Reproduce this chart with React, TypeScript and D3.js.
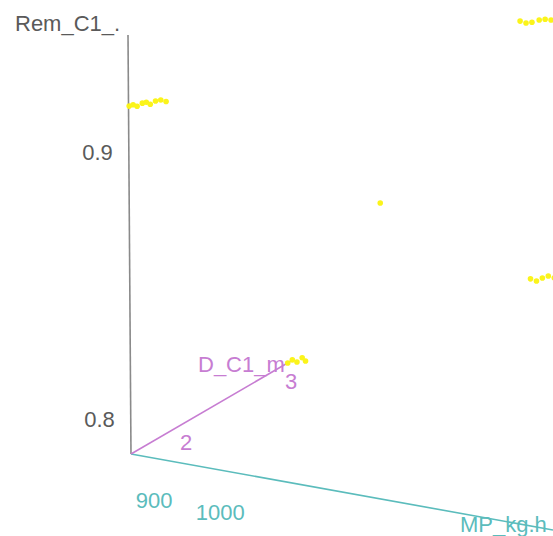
import React from 'react'
import * as d3 from 'd3'

// point data: MP_kg.h, Rem_C1_., D_C1_m
const mpValues = [866, 872, 878, 886, 892, 898, 906, 914, 922,
  868, 875, 882, 890, 895,
  1224, 1233, 1242, 1253, 1262, 1271, 1283,
  1237, 1246, 1255, 1264, 1273, 1282,
  1010]
const remValues = [0.9174, 0.9182, 0.9179, 0.9194, 0.92, 0.9195, 0.9211, 0.9218, 0.9216,
  0.7875, 0.789, 0.7885, 0.7905, 0.7895,
  0.9315, 0.9312, 0.9319, 0.9332, 0.9339, 0.934, 0.9349,
  0.8355, 0.8351, 0.8366, 0.8378, 0.8375, 0.8386,
  0.8538]
const dValues = [1.476, 1.476, 1.476, 1.476, 1.476, 1.476, 1.476, 1.476, 1.476,
  2.95, 2.95, 2.95, 2.95, 2.95,
  2.95, 2.95, 2.95, 2.95, 2.95, 2.95, 2.95,
  2.95, 2.95, 2.95, 2.95, 2.95, 2.95,
  2.95]

const mpTicks = [900, 1000]
const remTicks = [0.8, 0.9]
const dTicks = [2, 3]

const W = 553
const H = 536
const origin: [number, number] = [131, 454]
const vx: [number, number] = [422, 76]
const vy: [number, number] = [-3, -419]
const vz: [number, number] = [160, -93]

const sx = d3.scaleLinear().domain([865, 1504]).range([0, 1])
const sy = d3.scaleLinear().domain([0.787, 0.944]).range([0, 1])
const sz = d3.scaleLinear().domain([1.476, 3.0]).range([0, 1])

const project = (mp: number, rem: number, d: number): [number, number] => {
  const a = sx(mp), b = sy(rem), c = sz(d)
  return [
    origin[0] + a * vx[0] + b * vy[0] + c * vz[0],
    origin[1] + a * vx[1] + b * vy[1] + c * vz[1],
  ]
}

const font = '"Liberation Sans", Arial, sans-serif'
const grey = '#5a5a5a'
const teal = '#5bbcbc'
const pink = '#c77dd2'

export default function App() {
  const line = d3.line()
  const xEnd = project(1504, 0.787, 1.476)
  const yEnd = project(865, 0.944, 1.476)
  const zEnd = project(865, 0.787, 3.0)
  const pts = mpValues.map((m, i) => project(m, remValues[i], dValues[i]))

  return (
    <svg width={W} height={H} style={{ position: 'absolute', left: 0, top: 0, background: '#fff' }}
      fontFamily={font} fontSize={22}>
      <path d={line([origin, yEnd]) || ''} stroke="#8a8a8a" strokeWidth={1.6} fill="none" />
      <path d={line([origin, xEnd]) || ''} stroke={teal} strokeWidth={1.6} fill="none" />
      <path d={line([origin, zEnd]) || ''} stroke={pink} strokeWidth={1.6} fill="none" />

      {remTicks.map(t => {
        const [x, y] = project(865, t, 1.476)
        return <text key={t} x={x - 16} y={y + 8} textAnchor="end" fill={grey}>{t}</text>
      })}
      {mpTicks.map(t => {
        const [x, y] = project(t, 0.787, 1.476)
        return <text key={t} x={x} y={y + 50} textAnchor="middle" fill={teal}>{t}</text>
      })}
      {dTicks.map(t => {
        const [x, y] = project(865, 0.787, t)
        return <text key={t} x={x} y={y + 28} textAnchor="middle" fill={pink}>{t}</text>
      })}

      <text x={15} y={31} fill={grey}>Rem_C1_.</text>
      <text x={460} y={532} fill={teal}>MP_kg.h</text>
      <text x={198} y={372} fill={pink}>D_C1_m</text>

      {pts.map((p, i) => (
        <circle key={i} cx={p[0]} cy={p[1]} r={2.8} fill="#fbf41a" />
      ))}
    </svg>
  )
}
